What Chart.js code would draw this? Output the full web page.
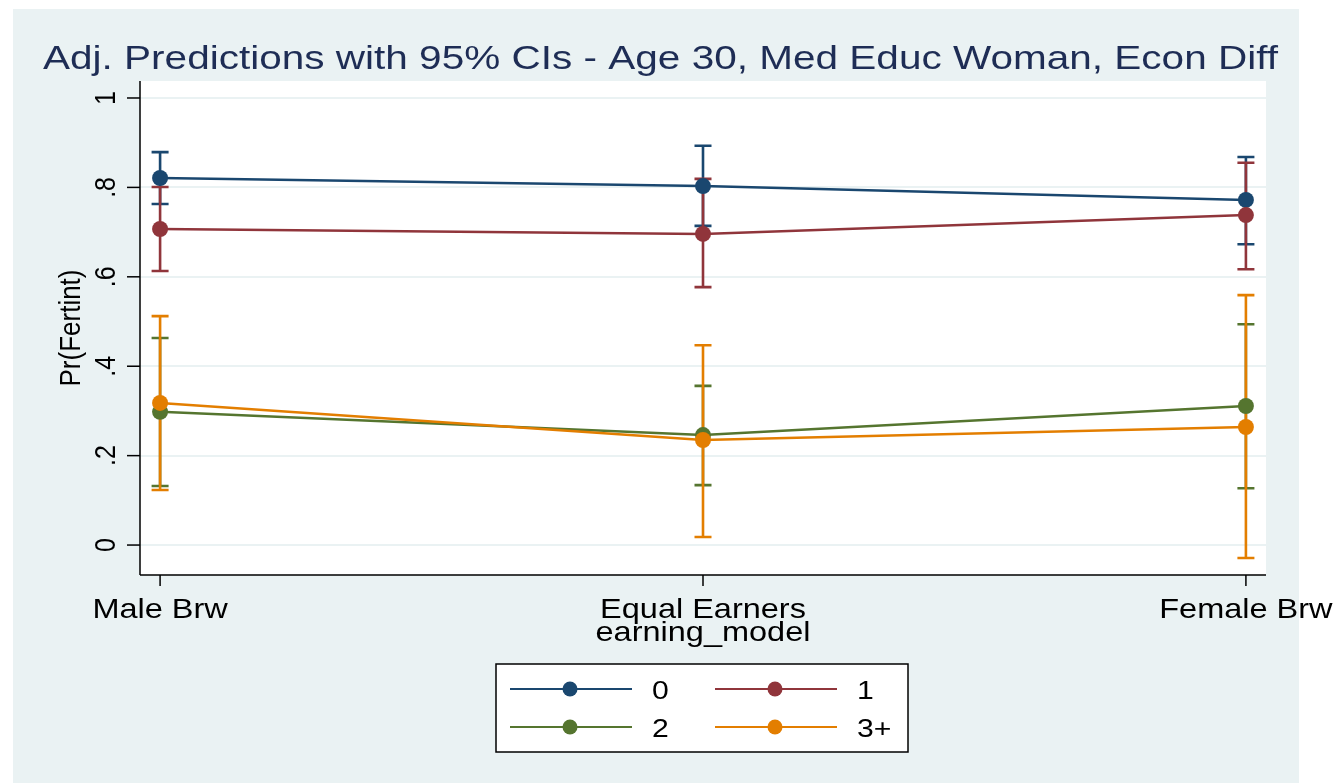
<!DOCTYPE html>
<html>
<head>
<meta charset="utf-8">
<script src="https://cdn.jsdelivr.net/npm/chart.js@4/dist/chart.umd.min.js"></script>
<style>
  html, body { margin: 0; padding: 0; background: #ffffff; }
  #wrap { width: 1335px; height: 783px; position: relative; }
</style>
</head>
<body>
<div id="wrap"><canvas id="c" width="1335" height="783"></canvas></div>
<script>
// Categories of the earning model (x axis)
const categories = ['Male Brw', 'Equal Earners', 'Female Brw'];
// Series names (number of children)
const seriesNames = ['0', '1', '2', '3+'];
const seriesColors = ['#1A476F', '#90353B', '#55752F', '#E37E00'];

// Adjusted predictions and 95% confidence bounds, one array per series
const pred0 = [0.821, 0.803, 0.772];
const lo0   = [0.763, 0.714, 0.673];
const hi0   = [0.879, 0.893, 0.868];

const pred1 = [0.707, 0.696, 0.738];
const lo1   = [0.613, 0.577, 0.617];
const hi1   = [0.801, 0.819, 0.855];

const pred2 = [0.298, 0.246, 0.311];
const lo2   = [0.132, 0.134, 0.127];
const hi2   = [0.463, 0.356, 0.494];

const pred3 = [0.318, 0.235, 0.264];
const lo3   = [0.123, 0.018, -0.029];
const hi3   = [0.512, 0.447, 0.559];

// Y-axis ticks
const yTickValues = [0, 0.2, 0.4, 0.6, 0.8, 1];
const yTickLabels = ['0', '.2', '.4', '.6', '.8', '1'];

const titleText = 'Adj. Predictions with 95% CIs - Age 30, Med Educ Woman, Econ Diff';
const xTitleText = 'earning_model';
const yTitleText = 'Pr(Fertint)';

const preds = [pred0, pred1, pred2, pred3];
const lows  = [lo0, lo1, lo2, lo3];
const highs = [hi0, hi1, hi2, hi3];

const FONT = '"Liberation Sans", Arial, Helvetica, sans-serif';
const SX = 1.16;   // horizontal stretch of the exported lettering

function drawText(ctx, s, x, y, size, color, align, sx, rot) {
  ctx.save();
  ctx.font = size + 'px ' + FONT;
  ctx.fillStyle = color;
  ctx.textAlign = align;
  ctx.textBaseline = 'alphabetic';
  ctx.translate(x, y);
  if (rot) {
    ctx.rotate(-Math.PI / 2);
    ctx.scale(1, sx);
  } else {
    ctx.scale(sx, 1);
  }
  ctx.fillText(s, 0, 0);
  ctx.restore();
}

const datasets = preds.map((p, k) => ({
  label: seriesNames[k],
  data: p.map((v, i) => ({ x: i, y: v })),
  borderColor: seriesColors[k],
  backgroundColor: seriesColors[k],
  borderWidth: 2.5,
  pointRadius: 8,
  pointHoverRadius: 8,
  pointBorderWidth: 0,
  pointBackgroundColor: seriesColors[k],
  tension: 0,
  fill: false,
  order: preds.length - k
}));

const framePlugin = {
  id: 'frame',
  beforeDraw(chart) {
    const ctx = chart.ctx;
    const a = chart.chartArea;
    ctx.save();
    ctx.fillStyle = '#ffffff';
    ctx.fillRect(0, 0, chart.width, chart.height);
    ctx.fillStyle = '#EAF2F3';
    ctx.fillRect(13, 9, 1286, 774);
    ctx.fillStyle = '#ffffff';
    ctx.fillRect(a.left, a.top, a.right - a.left, a.bottom - a.top);
    ctx.restore();
  }
};

const ciPlugin = {
  id: 'ci',
  beforeDatasetsDraw(chart) {
    const ctx = chart.ctx;
    const xs = chart.scales.x, ys = chart.scales.y;
    ctx.save();
    for (let k = 0; k < preds.length; k++) {
      ctx.strokeStyle = seriesColors[k];
      ctx.lineWidth = 2.6;
      ctx.lineCap = 'butt';
      for (let i = 0; i < categories.length; i++) {
        const px = xs.getPixelForValue(i);
        const pt = ys.getPixelForValue(highs[k][i]);
        const pb = ys.getPixelForValue(lows[k][i]);
        ctx.beginPath();
        ctx.moveTo(px, pt); ctx.lineTo(px, pb);
        ctx.moveTo(px - 8.5, pt); ctx.lineTo(px + 8.5, pt);
        ctx.moveTo(px - 8.5, pb); ctx.lineTo(px + 8.5, pb);
        ctx.stroke();
      }
    }
    ctx.restore();
  }
};

const decorPlugin = {
  id: 'decor',
  afterDraw(chart) {
    const ctx = chart.ctx;
    const a = chart.chartArea;
    const xs = chart.scales.x, ys = chart.scales.y;
    ctx.save();
    // axis lines
    ctx.strokeStyle = '#000000';
    ctx.lineWidth = 1.5;
    ctx.beginPath();
    ctx.moveTo(a.left, a.top); ctx.lineTo(a.left, a.bottom);
    ctx.moveTo(a.left, a.bottom); ctx.lineTo(a.right, a.bottom);
    ctx.stroke();
    // y ticks and labels
    yTickValues.forEach((v, i) => {
      const py = ys.getPixelForValue(v);
      ctx.beginPath();
      ctx.moveTo(a.left - 13, py); ctx.lineTo(a.left, py);
      ctx.stroke();
      drawText(ctx, yTickLabels[i], 115, py, 25, '#000000', 'center', SX, true);
    });
    // x ticks and labels
    categories.forEach((c, i) => {
      const px = xs.getPixelForValue(i);
      ctx.beginPath();
      ctx.moveTo(px, a.bottom); ctx.lineTo(px, a.bottom + 11);
      ctx.stroke();
      drawText(ctx, c, px, 618, 28, '#000000', 'center', SX, false);
    });
    // axis titles
    drawText(ctx, xTitleText, xs.getPixelForValue(1), 641, 28, '#000000', 'center', SX, false);
    drawText(ctx, yTitleText, 80, (a.top + a.bottom) / 2, 26, '#000000', 'center', SX, true);
    // title, fitted to its span
    ctx.font = '34px ' + FONT;
    const tw = ctx.measureText(titleText).width;
    drawText(ctx, titleText, 660.5, 69, 34, '#1E2D55', 'center', 1235 / tw, false);

    // legend box
    const bx = 496, by = 664, bw = 412, bh = 88;
    ctx.fillStyle = '#ffffff';
    ctx.fillRect(bx, by, bw, bh);
    ctx.strokeStyle = '#000000';
    ctx.lineWidth = 1.5;
    ctx.strokeRect(bx, by, bw, bh);
    const cols = [510, 715], rows = [689, 727];
    chart.data.datasets.forEach((ds, k) => {
      const cx = cols[k % 2], cy = rows[Math.floor(k / 2)];
      ctx.strokeStyle = ds.borderColor;
      ctx.lineWidth = 2.2;
      ctx.beginPath();
      ctx.moveTo(cx, cy); ctx.lineTo(cx + 122, cy);
      ctx.stroke();
      ctx.fillStyle = ds.borderColor;
      ctx.beginPath();
      ctx.arc(cx + 60, cy, 7.5, 0, Math.PI * 2);
      ctx.fill();
      drawText(ctx, ds.label, cx + 142, cy + 9.5, 26, '#000000', 'left', SX, false);
    });
    ctx.restore();
  }
};

new Chart(document.getElementById('c'), {
  type: 'line',
  data: { datasets },
  options: {
    responsive: false,
    devicePixelRatio: 1,
    animation: false,
    events: [],
    layout: { padding: { left: 140, top: 81, right: 69, bottom: 208 } },
    plugins: { legend: { display: false }, tooltip: { enabled: false }, title: { display: false } },
    scales: {
      x: {
        type: 'linear',
        min: -0.037,
        max: 2.037,
        ticks: { display: false },
        grid: { display: false, drawTicks: false },
        border: { display: false }
      },
      y: {
        type: 'linear',
        min: -0.067,
        max: 1.038,
        afterBuildTicks(scale) { scale.ticks = yTickValues.map(v => ({ value: v })); },
        ticks: { display: false, includeBounds: false },
        grid: { display: true, drawTicks: false, color: '#EAF2F3', lineWidth: 2 },
        border: { display: false }
      }
    }
  },
  plugins: [framePlugin, ciPlugin, decorPlugin]
});
</script>
</body>
</html>
